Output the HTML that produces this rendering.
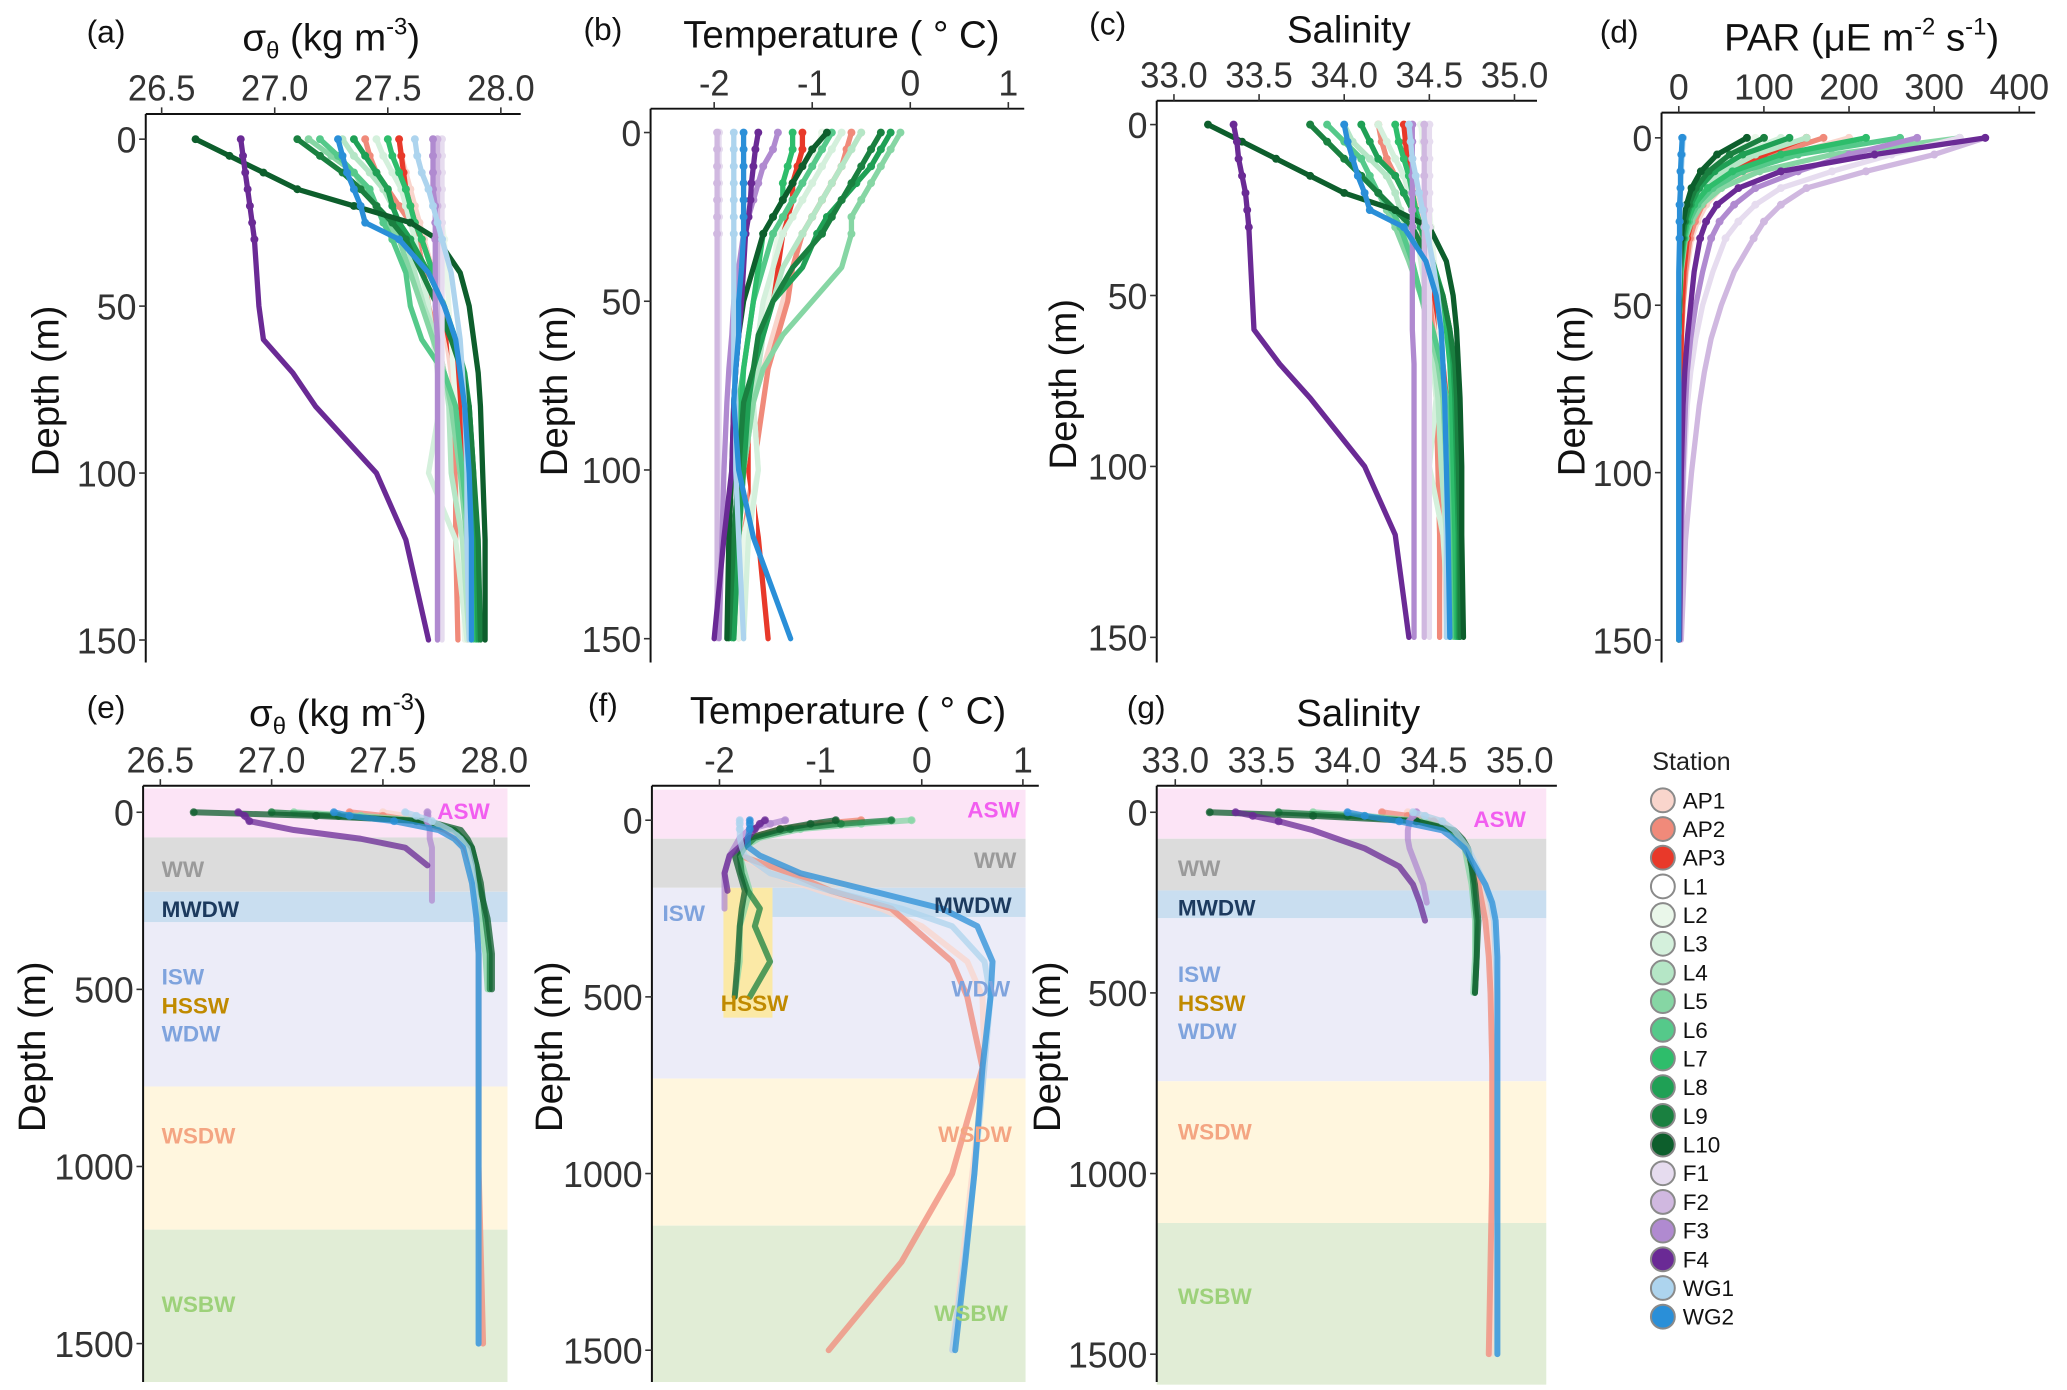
<!DOCTYPE html>
<html><head><meta charset="utf-8">
<style>
html,body{margin:0;padding:0;background:#fff;}
svg{display:block;}
text{font-family:"Liberation Sans",sans-serif;fill:#222;}
.tk{font-size:27px;fill:#333;}
.ti{font-size:29px;fill:#111;}
.pl{font-size:24px;fill:#111;}
.bl{font-size:17px;font-weight:bold;}
.lg{font-size:17px;fill:#111;}
</style></head>
<body>
<svg id="fig" width="2067" height="1390" viewBox="0 0 1560 1049" xmlns="http://www.w3.org/2000/svg">
<g id="bg"></g><g id="marks"></g><g id="axes"></g>
</svg>
<script>
const stations=["AP1","AP2","AP3","L1","L2","L3","L4","L5","L6","L7","L8","L9","L10","F1","F2","F3","F4","WG1","WG2"];
const colors=["#f9d5cc","#f08a7a","#e8392a","#ffffff","#eaf7ea","#d4f0dc","#b5e6c6","#86d6a4","#55c98a","#2ebd6b","#1fa055","#1a8040","#0d5e2c","#e6dcef","#d0b8e0","#b08ad0","#6a2a95","#add4ee","#2a8fd8"];
const topDepths=[0,5,10,15,20,25,30,40,50,60,70,80,100,120,150];
// (a) sigma-theta
const sigA={
AP1:[27.55,27.56,27.58,27.6,27.62,27.64,27.66,27.7,27.74,27.76,27.78,27.8,27.82,27.83,27.84],
AP2:[27.4,27.42,27.45,27.5,27.55,27.6,27.63,27.66,27.68,27.72,27.75,27.78,27.8,27.8,27.81],
AP3:[27.55,27.56,27.57,27.58,27.6,27.62,27.65,27.7,27.74,27.77,27.8,27.82,27.83,27.84,27.85],
L1:[27.72,27.72,27.72,27.72,27.73,27.73,27.73,27.73,27.73,27.74,27.74,27.74,27.74,27.74,27.74],
L2:[27.7,27.7,27.71,27.72,27.73,27.74,27.75,27.76,27.77,27.78,27.79,27.8,27.82,27.83,27.84],
L3:[27.45,27.48,27.52,27.56,27.58,27.6,27.62,27.65,27.68,27.7,27.72,27.73,27.68,27.8,27.85],
L4:[27.3,27.35,27.42,27.48,27.52,27.55,27.58,27.62,27.66,27.72,27.75,27.77,27.78,27.83,27.86],
L5:[27.15,27.25,27.35,27.4,27.45,27.5,27.55,27.6,27.65,27.7,27.75,27.78,27.82,27.85,27.87],
L6:[27.2,27.28,27.35,27.42,27.45,27.48,27.52,27.58,27.6,27.65,27.75,27.8,27.83,27.86,27.88],
L7:[27.5,27.52,27.55,27.58,27.6,27.62,27.65,27.7,27.75,27.8,27.83,27.85,27.87,27.88,27.89],
L8:[27.35,27.4,27.45,27.5,27.52,27.55,27.6,27.68,27.75,27.8,27.84,27.86,27.88,27.89,27.9],
L9:[27.1,27.2,27.3,27.38,27.45,27.52,27.58,27.65,27.72,27.78,27.83,27.86,27.88,27.9,27.91],
L10:[26.65,26.8,26.95,27.1,27.35,27.6,27.72,27.82,27.86,27.88,27.9,27.91,27.92,27.93,27.93],
F1:[27.74,27.74,27.74,27.74,27.74,27.74,27.74,27.74,27.74,27.74,27.74,27.74,27.74,27.74,27.74],
F2:[27.72,27.72,27.72,27.72,27.72,27.72,27.72,27.72,27.72,27.72,27.72,27.72,27.72,27.72,27.72],
F3:[27.7,27.7,27.7,27.7,27.71,27.71,27.71,27.71,27.71,27.72,27.72,27.72,27.72,27.72,27.72],
F4:[26.85,26.86,26.87,26.88,26.89,26.9,26.91,26.92,26.93,26.95,27.08,27.18,27.45,27.58,27.68],
WG1:[27.62,27.63,27.65,27.68,27.7,27.72,27.74,27.78,27.8,27.82,27.83,27.84,27.85,27.85,27.86],
WG2:[27.28,27.3,27.32,27.35,27.38,27.4,27.55,27.68,27.75,27.8,27.82,27.84,27.86,27.87,27.87]};
// (b) temperature
const tempB={
AP1:[-0.5,-0.6,-0.7,-0.8,-0.9,-1.0,-1.1,-1.2,-1.3,-1.4,-1.5,-1.6,-1.7,-1.75,-1.8],
AP2:[-0.6,-0.65,-0.7,-0.8,-0.9,-1.0,-1.1,-1.2,-1.25,-1.35,-1.45,-1.5,-1.6,-1.7,-1.75],
AP3:[-1.1,-1.1,-1.15,-1.2,-1.2,-1.25,-1.3,-1.35,-1.45,-1.55,-1.6,-1.65,-1.65,-1.55,-1.45],
L1:[-1.6,-1.6,-1.6,-1.6,-1.6,-1.6,-1.6,-1.6,-1.6,-1.6,-1.6,-1.6,-1.6,-1.6,-1.6],
L2:[-0.9,-0.95,-1.0,-1.1,-1.2,-1.3,-1.35,-1.4,-1.45,-1.5,-1.55,-1.6,-1.55,-1.7,-1.75],
L3:[-0.7,-0.8,-0.9,-1.0,-1.1,-1.2,-1.3,-1.4,-1.5,-1.55,-1.6,-1.6,-1.55,-1.65,-1.7],
L4:[-0.5,-0.6,-0.7,-0.8,-0.9,-1.0,-1.1,-1.3,-1.4,-1.5,-1.55,-1.6,-1.7,-1.75,-1.8],
L5:[-0.1,-0.2,-0.3,-0.4,-0.5,-0.6,-0.6,-0.7,-1.0,-1.3,-1.5,-1.6,-1.7,-1.75,-1.8],
L6:[-0.8,-0.9,-1.0,-1.1,-1.2,-1.3,-1.4,-1.5,-1.6,-1.65,-1.7,-1.75,-1.75,-1.8,-1.85],
L7:[-1.2,-1.2,-1.25,-1.3,-1.3,-1.4,-1.5,-1.55,-1.6,-1.65,-1.7,-1.72,-1.75,-1.8,-1.82],
L8:[-0.2,-0.3,-0.4,-0.55,-0.7,-0.85,-0.95,-1.1,-1.4,-1.5,-1.6,-1.65,-1.7,-1.75,-1.8],
L9:[-0.3,-0.4,-0.5,-0.6,-0.7,-0.8,-0.9,-1.2,-1.4,-1.55,-1.6,-1.7,-1.75,-1.8,-1.85],
L10:[-0.85,-1.0,-1.1,-1.2,-1.3,-1.4,-1.5,-1.6,-1.7,-1.75,-1.78,-1.8,-1.82,-1.85,-1.87],
F1:[-1.95,-1.95,-1.95,-1.95,-1.95,-1.95,-1.95,-1.95,-1.95,-1.95,-1.95,-1.95,-1.95,-1.95,-1.95],
F2:[-1.97,-1.97,-1.97,-1.97,-1.97,-1.97,-1.97,-1.97,-1.97,-1.97,-1.97,-1.97,-1.97,-1.97,-1.97],
F3:[-1.35,-1.4,-1.5,-1.55,-1.6,-1.65,-1.7,-1.75,-1.8,-1.82,-1.85,-1.87,-1.9,-1.92,-1.95],
F4:[-1.55,-1.58,-1.6,-1.62,-1.63,-1.65,-1.68,-1.7,-1.72,-1.75,-1.78,-1.8,-1.82,-1.9,-2.0],
WG1:[-1.8,-1.8,-1.8,-1.8,-1.8,-1.8,-1.8,-1.8,-1.8,-1.8,-1.8,-1.78,-1.78,-1.75,-1.7],
WG2:[-1.7,-1.7,-1.7,-1.7,-1.7,-1.7,-1.7,-1.72,-1.75,-1.75,-1.78,-1.8,-1.75,-1.6,-1.22]};
// (c) salinity
const salC={
AP1:[34.35,34.36,34.38,34.4,34.42,34.44,34.46,34.5,34.53,34.55,34.56,34.57,34.58,34.59,34.6],
AP2:[34.2,34.22,34.25,34.3,34.35,34.4,34.44,34.48,34.5,34.52,34.53,34.54,34.55,34.56,34.56],
AP3:[34.35,34.36,34.37,34.38,34.4,34.42,34.45,34.5,34.53,34.56,34.58,34.6,34.6,34.61,34.62],
L1:[34.48,34.48,34.48,34.48,34.48,34.48,34.48,34.48,34.48,34.48,34.48,34.48,34.48,34.48,34.48],
L2:[34.45,34.46,34.47,34.48,34.49,34.5,34.51,34.53,34.55,34.56,34.57,34.58,34.59,34.6,34.6],
L3:[34.2,34.25,34.3,34.35,34.38,34.4,34.42,34.45,34.48,34.5,34.52,34.54,34.5,34.58,34.62],
L4:[34.0,34.05,34.15,34.25,34.3,34.33,34.36,34.4,34.45,34.5,34.53,34.55,34.57,34.6,34.63],
L5:[33.8,33.9,34.0,34.1,34.2,34.25,34.3,34.38,34.45,34.5,34.55,34.58,34.6,34.62,34.64],
L6:[33.9,34.0,34.1,34.15,34.2,34.28,34.33,34.4,34.45,34.52,34.57,34.6,34.62,34.64,34.65],
L7:[34.3,34.32,34.35,34.38,34.4,34.42,34.45,34.5,34.55,34.6,34.62,34.63,34.64,34.65,34.66],
L8:[34.1,34.15,34.2,34.3,34.35,34.4,34.45,34.52,34.58,34.62,34.64,34.65,34.66,34.67,34.67],
L9:[33.8,33.9,34.0,34.1,34.2,34.3,34.4,34.5,34.58,34.62,34.65,34.66,34.67,34.68,34.68],
L10:[33.2,33.4,33.6,33.8,34.0,34.3,34.5,34.6,34.64,34.66,34.67,34.68,34.69,34.69,34.7],
F1:[34.5,34.5,34.5,34.5,34.5,34.5,34.5,34.5,34.5,34.5,34.5,34.5,34.5,34.5,34.5],
F2:[34.47,34.47,34.47,34.47,34.47,34.47,34.47,34.47,34.47,34.47,34.47,34.47,34.47,34.47,34.47],
F3:[34.4,34.4,34.4,34.4,34.4,34.4,34.4,34.4,34.4,34.4,34.41,34.41,34.41,34.41,34.41],
F4:[33.35,33.37,33.38,33.4,33.42,33.43,33.44,33.45,33.46,33.47,33.62,33.8,34.12,34.3,34.38],
WG1:[34.38,34.39,34.4,34.42,34.44,34.46,34.48,34.52,34.55,34.57,34.58,34.59,34.6,34.6,34.6],
WG2:[34.0,34.02,34.05,34.08,34.12,34.15,34.35,34.48,34.54,34.57,34.58,34.59,34.6,34.61,34.62]};
// (d) PAR
const parD={
AP1:[200,130,80,50,32,22,15,9,5,3,2,1,1,0,0],
AP2:[170,110,70,44,28,19,13,8,5,3,2,1,1,0,0],
AP3:[150,100,60,35,22,15,10,6,4,3,2,1,1,0,0],
L1:[60,35,20,12,7,4,3,1,1,0,0,0,0,0,0],
L2:[90,55,32,19,11,7,4,2,1,0,0,0,0,0,0],
L3:[120,70,40,24,14,8,5,2,1,0,0,0,0,0,0],
L4:[150,90,52,30,17,10,6,2,1,0,0,0,0,0,0],
L5:[330,180,95,50,27,15,8,3,1,0,0,0,0,0,0],
L6:[260,140,75,40,22,12,7,2,1,0,0,0,0,0,0],
L7:[220,120,63,34,18,10,6,2,1,0,0,0,0,0,0],
L8:[130,75,42,24,14,8,5,2,1,0,0,0,0,0,0],
L9:[100,60,35,20,12,7,4,1,1,0,0,0,0,0,0],
L10:[80,45,26,15,9,5,3,1,0,0,0,0,0,0,0],
F1:[330,250,180,120,90,70,55,40,28,20,14,10,6,3,1],
F2:[360,300,220,150,120,100,88,65,50,38,30,24,15,8,3],
F3:[280,200,140,90,65,48,38,28,20,14,10,8,5,3,1],
F4:[360,230,120,70,45,32,25,18,14,10,7,5,3,2,1],
WG1:[5,4,3,2,2,1,1,1,0,0,0,0,0,0,0],
WG2:[4,3,2,2,1,1,1,0,0,0,0,0,0,0,0]};
// bottom panels (depth 0-1500)
const botDepths=[0,10,25,50,75,100,150,200,250,300,400,500,700,1000,1250,1500];
const sigE={
AP1:[27.5,27.6,27.7,27.8,27.85,27.88,27.9,27.91,27.92,27.92,27.93,27.93,27.93,27.93,27.93,27.94],
AP2:[27.35,27.5,27.65,27.78,27.84,27.87,27.9,27.91,27.92,27.92,27.93,27.93,27.93,27.93,27.94,27.95],
L5:[27.1,27.4,27.7,27.82,27.86,27.88,27.9,27.91,27.92,27.94,27.96,27.97,null,null,null,null],
L9:[27.0,27.3,27.65,27.82,27.86,27.9,27.92,27.93,27.95,27.96,27.98,27.98,null,null,null,null],
L10:[26.65,27.2,27.7,27.85,27.88,27.9,27.92,27.94,27.95,27.97,27.99,27.99,null,null,null,null],
F3:[27.7,27.7,27.7,27.71,27.71,27.72,27.72,27.72,27.72,null,null,null,null,null,null,null],
F4:[26.85,26.88,26.9,27.1,27.4,27.6,27.7,null,null,null,null,null,null,null,null,null],
WG1:[27.6,27.65,27.72,27.8,27.85,27.88,27.9,27.91,27.92,27.92,27.93,27.93,27.93,27.93,27.93,27.93],
WG2:[27.28,27.35,27.55,27.75,27.82,27.86,27.88,27.9,27.91,27.92,27.93,27.93,27.93,27.93,27.93,27.93]};
const tempF={
AP1:[-0.6,-1.0,-1.4,-1.7,-1.75,-1.78,-1.5,-1.0,-0.4,0.0,0.45,0.6,0.62,0.5,0.4,0.3],
AP2:[-0.6,-1.0,-1.4,-1.7,-1.75,-1.8,-1.3,-0.9,-0.3,-0.1,0.3,0.45,0.6,0.3,-0.2,-0.92],
L5:[-0.1,-0.6,-1.2,-1.6,-1.75,-1.8,-1.75,-1.7,-1.75,-1.8,-1.8,-1.85,null,null,null,null],
L9:[-0.3,-0.8,-1.3,-1.65,-1.75,-1.8,-1.78,-1.72,-1.6,-1.65,-1.5,-1.7,null,null,null,null],
L10:[-0.85,-1.1,-1.4,-1.7,-1.78,-1.85,-1.8,-1.75,-1.78,-1.8,-1.82,-1.85,null,null,null,null],
F3:[-1.35,-1.5,-1.7,-1.8,-1.85,-1.9,-1.95,-1.95,-1.95,null,null,null,null,null,null,null],
F4:[-1.55,-1.6,-1.65,-1.72,-1.8,-1.9,-1.95,-1.92,null,null,null,null,null,null,null,null],
WG1:[-1.8,-1.8,-1.8,-1.8,-1.78,-1.75,-1.5,-0.9,-0.2,0.3,0.62,0.68,0.62,0.52,0.42,0.3],
WG2:[-1.7,-1.7,-1.7,-1.72,-1.72,-1.6,-1.2,-0.5,0.2,0.55,0.7,0.68,0.6,0.52,0.43,0.33]};
const salG={
AP1:[34.35,34.45,34.55,34.62,34.66,34.7,34.74,34.78,34.8,34.82,34.83,34.84,34.84,34.84,34.84,34.83],
AP2:[34.2,34.35,34.5,34.6,34.65,34.68,34.72,34.76,34.78,34.8,34.82,34.83,34.84,34.84,34.83,34.82],
L5:[33.8,34.1,34.45,34.6,34.65,34.68,34.7,34.72,34.73,34.74,34.74,34.73,null,null,null,null],
L9:[33.6,34.0,34.4,34.6,34.66,34.7,34.72,34.73,34.74,34.75,34.75,34.74,null,null,null,null],
L10:[33.2,33.8,34.4,34.62,34.67,34.7,34.72,34.74,34.75,34.76,34.75,34.74,null,null,null,null],
F3:[34.4,34.38,34.36,34.35,34.35,34.36,34.4,34.44,34.46,null,null,null,null,null,null,null],
F4:[33.35,33.45,33.6,33.8,33.95,34.1,34.3,34.38,34.42,34.45,null,null,null,null,null,null],
WG1:[34.38,34.45,34.55,34.62,34.66,34.7,34.75,34.8,34.83,34.85,34.86,34.87,34.87,34.87,34.87,34.87],
WG2:[34.0,34.1,34.3,34.55,34.62,34.68,34.74,34.8,34.84,34.86,34.87,34.87,34.87,34.87,34.87,34.87]};

const NS="http://www.w3.org/2000/svg";
const bgG=document.getElementById('bg'),mG=document.getElementById('marks'),aG=document.getElementById('axes');
function mk(tag,attrs,parent){const e=document.createElementNS(NS,tag);for(const k in attrs)e.setAttribute(k,attrs[k]);parent.appendChild(e);return e;}
function lin(d0,d1,r0,r1){return v=>r0+(v-d0)/(d1-d0)*(r1-r0);}
function tlen(s){let w=0;for(const c of s){w+= (c==='.')?6:(c==='-')?8:15;}return w;}

const panels=[
{id:"a",axY:86,axX:110,xd:[26.5,28],xr:[122,378],yd:[0,150],yr:[105,483],xEnd:393,yEnd:500,xt:[26.5,27,27.5,28],xl:["26.5","27.0","27.5","28.0"],yt:[0,50,100,150],title:"sigma",tx:250,ty:38,lx:80,dx:44,dy:295,data:sigA,dep:topDepths},
{id:"b",axY:82,axX:491,xd:[-2,1],xr:[539,761],yd:[0,150],yr:[100,482],xEnd:773,yEnd:500,xt:[-2,-1,0,1],xl:["-2","-1","0","1"],yt:[0,50,100,150],title:"temp",tx:635,ty:36,lx:455,dx:428,dy:295,data:tempB,dep:topDepths},
{id:"c",axY:76,axX:873,xd:[33,35],xr:[886,1143],yd:[0,150],yr:[94,481],xEnd:1160,yEnd:500,xt:[33,33.5,34,34.5,35],xl:["33.0","33.5","34.0","34.5","35.0"],yt:[0,50,100,150],title:"Salinity",tx:1018,ty:32,lx:836,dx:812,dy:290,data:salC,dep:topDepths},
{id:"d",axY:85,axX:1254,xd:[0,400],xr:[1267,1524],yd:[0,150],yr:[104,483],xEnd:1536,yEnd:500,xt:[0,100,200,300,400],xl:["0","100","200","300","400"],yt:[0,50,100,150],title:"par",tx:1405,ty:38,lx:1222,dx:1196,dy:295,data:parD,dep:topDepths},
{id:"e",axY:593,axX:108,xd:[26.5,28],xr:[121,373],yd:[0,1500],yr:[613,1014],xEnd:400,yEnd:1043,xt:[26.5,27,27.5,28],xl:["26.5","27.0","27.5","28.0"],yt:[0,500,1000,1500],title:"sigma",tx:255,ty:548,lx:80,dx:34,dy:790,data:sigE,dep:botDepths,bgX:[108,383],
 bands:[[595,632,"#fce4f6"],[632,673,"#dcdcdc"],[673,696,"#c9def0"],[696,820,"#ececf8"],[820,928,"#fff6de"],[928,1043,"#e1edd6"]],
 labs:[["ASW",330,618,"#f25ef0"],["WW",122,662,"#9a9a9a"],["MWDW",122,692,"#1c3a5e"],["ISW",122,743,"#7fa3dd"],["HSSW",122,765,"#c08a00"],["WDW",122,786,"#7fa3dd"],["WSDW",122,863,"#f4a582"],["WSBW",122,990,"#9dd17a"]]},
{id:"f",axY:593,axX:492,xd:[-2,1],xr:[543,772],yd:[0,1500],yr:[619,1019],xEnd:784,yEnd:1043,xt:[-2,-1,0,1],xl:["-2","-1","0","1"],yt:[0,500,1000,1500],title:"temp",tx:640,ty:546,lx:455,dx:424,dy:790,data:tempF,dep:botDepths,bgX:[492,774],
 bands:[[596,633,"#fce4f6"],[633,670,"#dcdcdc"],[670,814,"#ececf8"],[814,925,"#fff6de"],[925,1043,"#e1edd6"]],
 mwdw:[583,670,191,22],
 hssw:[546,670,37,98],
 labs:[["ASW",730,617,"#f25ef0"],["WW",735,655,"#9a9a9a"],["MWDW",705,689,"#1c3a5e"],["ISW",500,695,"#7fa3dd"],["HSSW",544,763,"#c08a00"],["WDW",718,752,"#7fa3dd"],["WSDW",708,862,"#f4a582"],["WSBW",705,997,"#9dd17a"]]},
{id:"g",axY:593,axX:873,xd:[33,35],xr:[887,1147],yd:[0,1500],yr:[613,1022],xEnd:1175,yEnd:1043,xt:[33,33.5,34,34.5,35],xl:["33.0","33.5","34.0","34.5","35.0"],yt:[0,500,1000,1500],title:"Salinity",tx:1025,ty:548,lx:865,dx:800,dy:790,data:salG,dep:botDepths,bgX:[873,1167],
 bands:[[595,633,"#fce4f6"],[633,672,"#dcdcdc"],[672,693,"#c9def0"],[693,816,"#ececf8"],[816,923,"#fff6de"],[923,1045,"#e1edd6"]],
 labs:[["ASW",1112,624,"#f25ef0"],["WW",889,661,"#9a9a9a"],["MWDW",889,691,"#1c3a5e"],["ISW",889,741,"#7fa3dd"],["HSSW",889,763,"#c08a00"],["WDW",889,784,"#7fa3dd"],["WSDW",889,860,"#f4a582"],["WSBW",889,984,"#9dd17a"]]}
];

panels.forEach(p=>{
  const X=lin(p.xd[0],p.xd[1],p.xr[0],p.xr[1]),Y=lin(p.yd[0],p.yd[1],p.yr[0],p.yr[1]);
  const bottom=!!p.bands;
  if(bottom){
    p.bands.forEach((b,i)=>{
      const r=mk('rect',{x:p.bgX[0],y:b[0],width:p.bgX[1]-p.bgX[0],height:b[1]-b[0],fill:b[2]},bgG);
      
      
    });
    if(p.mwdw){
      const m=mk('rect',{x:p.mwdw[0],y:p.mwdw[1],width:p.mwdw[2],height:p.mwdw[3],fill:"#c9def0"},bgG);
      
      
    }
    if(p.hssw){
      const h=mk('rect',{x:p.hssw[0],y:p.hssw[1],width:p.hssw[2],height:p.hssw[3],fill:"#fbe9a6"},bgG);
      
      
    }
  }
  const g=mk('g',{},mG);
  
  
  stations.forEach((s,si)=>{
    const vals=p.data[s]; if(!vals) return;
    const col=colors[si];
    let pts=[];
    vals.forEach((v,i)=>{ if(v!==null) pts.push([X(v),Y(p.dep[i]),p.dep[i]]); });
    const pl=mk('polyline',{points:pts.map(q=>q[0].toFixed(1)+','+q[1].toFixed(1)).join(' '),fill:'none',stroke:col,'stroke-width':bottom?4.5:4,'stroke-linejoin':'round','stroke-linecap':'round',opacity:bottom?0.75:1},g);
    
    
    pts.forEach(q=>{
      if(q[2]<= (bottom?25:30)){
        const c=mk('circle',{cx:q[0].toFixed(1),cy:q[1].toFixed(1),r:3,fill:col,opacity:bottom?0.75:1},g);
        
        
      }
    });
  });
  if(bottom){
    p.labs.forEach(l=>{
      const t=mk('text',{x:l[1],y:l[2],class:'bl',style:'fill:'+l[3]},aG);
      t.textContent=l[0];
      
      
    });
  }
  const xa=mk('line',{x1:p.axX,y1:p.axY,x2:p.xEnd,y2:p.axY,stroke:'#111','stroke-width':1.5},aG);
  
  
  const ya=mk('line',{x1:p.axX,y1:p.axY,x2:p.axX,y2:p.yEnd,stroke:'#111','stroke-width':1.5},aG);
  
  
  p.xt.forEach((v,i)=>{
    mk('line',{x1:X(v),y1:p.axY,x2:X(v),y2:p.axY-5,stroke:'#333','stroke-width':1.2},aG);
    const t=mk('text',{x:X(v),y:p.axY-10,class:'tk','text-anchor':'middle',textLength:tlen(p.xl[i]),lengthAdjust:'spacingAndGlyphs'},aG);
    t.textContent=p.xl[i];
    
    
  });
  p.yt.forEach(v=>{
    mk('line',{x1:p.axX,y1:Y(v),x2:p.axX-5,y2:Y(v),stroke:'#333','stroke-width':1.2},aG);
    const s=String(v);
    const t=mk('text',{x:p.axX-7,y:Y(v)+10,class:'tk','text-anchor':'end',textLength:tlen(s),lengthAdjust:'spacingAndGlyphs'},aG);
    t.textContent=s;
    
    
  });
  const pl=mk('text',{x:p.lx,y:p.ty-6,class:'pl','text-anchor':'middle'},aG);
  pl.textContent='('+p.id+')';
  
  
  const ti=mk('text',{x:p.tx,y:p.ty,class:'ti','text-anchor':'middle'},aG);
  
  
  if(p.title==='sigma') ti.innerHTML='σ<tspan font-size="18" dy="6">θ</tspan><tspan dy="-6"> (kg m</tspan><tspan font-size="18" dy="-12">-3</tspan><tspan dy="12">)</tspan>';
  else if(p.title==='temp') ti.textContent='Temperature ( ° C)';
  else if(p.title==='par') ti.innerHTML='PAR (μE m<tspan font-size="18" dy="-12">-2</tspan><tspan dy="12"> s</tspan><tspan font-size="18" dy="-12">-1</tspan><tspan dy="12">)</tspan>';
  else ti.textContent=p.title;
  const yt=mk('text',{x:p.dx,y:p.dy,class:'ti','text-anchor':'middle',transform:'rotate(-90 '+p.dx+' '+p.dy+')'},aG);
  yt.textContent='Depth (m)';
  
  
});

const lg=mk('g',{},aG);


const lt=mk('text',{x:1247,y:581,style:'font-size:19px'},lg);
lt.textContent='Station';


stations.forEach((s,i)=>{
  const y=604+i*21.65;
  const c=mk('circle',{cx:1255,cy:y,r:9,fill:colors[i],stroke:'#8a8a8a','stroke-width':1.5},lg);
  
  
  const t=mk('text',{x:1270,y:y+6,class:'lg'},lg);
  t.textContent=s;
  
  
});
</script>
</body></html>
